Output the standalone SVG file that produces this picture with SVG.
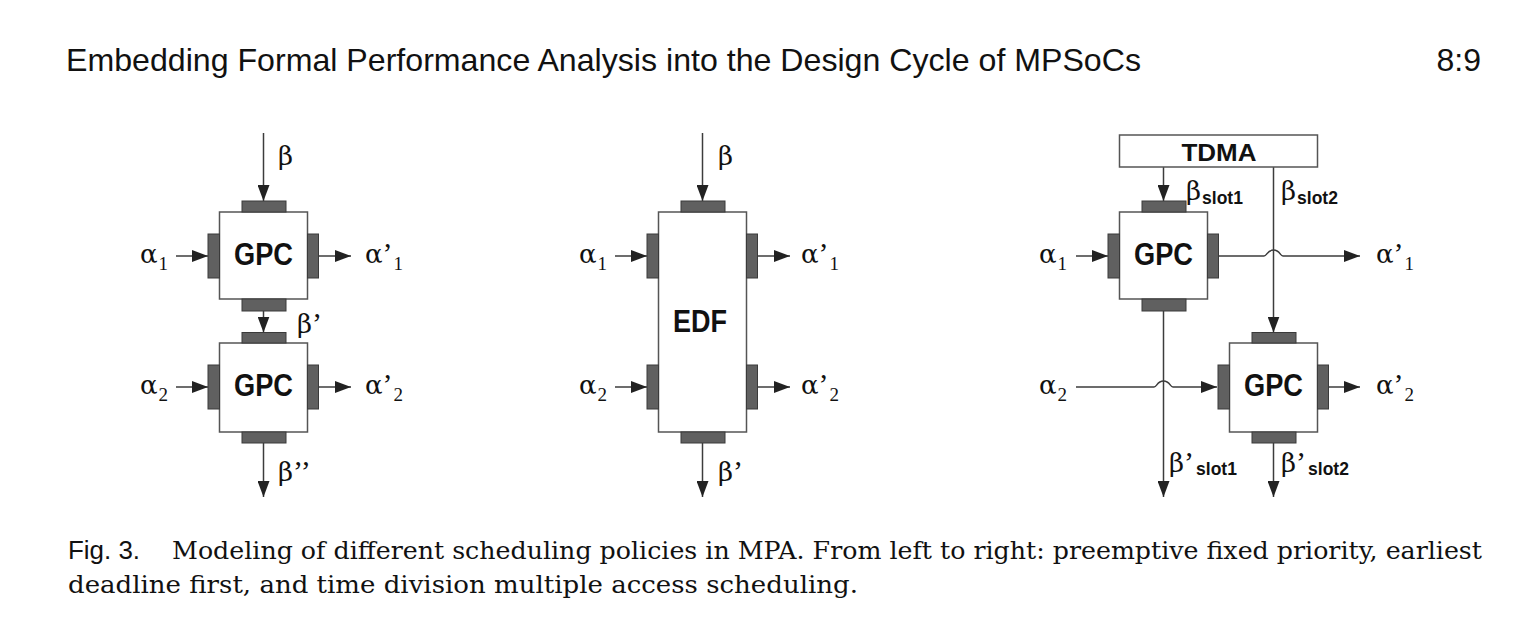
<svg xmlns="http://www.w3.org/2000/svg" width="1516" height="634" viewBox="0 0 1516 634">
<style>
.box{fill:#fff;stroke:#555;stroke-width:1.5}
.port{fill:#606060;stroke:#3a3a3a;stroke-width:1}
.ln{fill:none;stroke:#3c3c3c;stroke-width:1.5}
.arr{marker-end:url(#ah)}
.nm{font-family:"Liberation Sans",Arial,sans-serif;font-weight:bold;fill:#111;text-anchor:middle}
.gr{font-family:"DejaVu Serif","Liberation Serif",serif;font-size:26px;fill:#111}
.pr{font-family:"Liberation Serif","Times New Roman",serif;font-size:30px}
.sub{font-family:"Liberation Serif","Times New Roman",serif;font-size:19px}
.ss{font-family:"Liberation Sans",Arial,sans-serif;font-weight:bold;font-size:17.5px}
.hd{font-family:"Liberation Sans",Arial,sans-serif;font-size:32px;fill:#111}
.cap{font-family:"DejaVu Serif","Liberation Serif",serif;font-size:24.5px;fill:#111}
.capf{font-family:"Liberation Sans",Arial,sans-serif;font-size:25px;fill:#111}
</style>
<defs>
<marker id="ah" markerUnits="userSpaceOnUse" markerWidth="16" markerHeight="12" refX="16" refY="6" orient="auto">
<path d="M0,0 L16,6 L0,12 Z" fill="#222"/>
</marker>
</defs>
<rect width="1516" height="634" fill="#fff"/>

<text class="hd" x="66" y="71" textLength="1075" lengthAdjust="spacingAndGlyphs">Embedding Formal Performance Analysis into the Design Cycle of MPSoCs</text>
<text class="hd" x="1481" y="71" text-anchor="end">8:9</text>

<g id="connectors">
<path class="ln arr" d="M263.5,133 V201"/>
<path class="ln arr" d="M176,256 H208"/>
<path class="ln arr" d="M318.5,256 H351"/>
<path class="ln arr" d="M263.5,311 V332.5"/>
<path class="ln arr" d="M176,387 H208"/>
<path class="ln arr" d="M318.5,387 H351"/>
<path class="ln arr" d="M263.5,443 V497"/>
<path class="ln arr" d="M702.5,133 V201"/>
<path class="ln arr" d="M615,256 H647"/>
<path class="ln arr" d="M615,387 H647"/>
<path class="ln arr" d="M757.5,256 H790"/>
<path class="ln arr" d="M757.5,387 H790"/>
<path class="ln arr" d="M702.5,443 V497"/>
<path class="ln arr" d="M1163.5,167 V201"/>
<path class="ln arr" d="M1273.5,167 V332.5"/>
<path class="ln arr" d="M1076,256 H1108"/>
<path class="ln arr" d="M1218.5,256 H1264 C1267,256 1267,250 1273.5,250 C1280,250 1280,256 1283,256 H1360"/>
<path class="ln arr" d="M1163.5,311 V497"/>
<path class="ln arr" d="M1076,387 H1154 C1157,387 1157,381 1163.5,381 C1170,381 1170,387 1173,387 H1217"/>
<path class="ln arr" d="M1328.5,387 H1360"/>
<path class="ln arr" d="M1273.5,443 V497"/>
</g>

<g id="gpc-left-1">
<rect class="box" x="219.5" y="212" width="88" height="87"/>
<rect class="port" x="242" y="201" width="44" height="11"/>
<rect class="port" x="242" y="299" width="44" height="12"/>
<rect class="port" x="208" y="234" width="11.5" height="44"/>
<rect class="port" x="307.5" y="234" width="11" height="44"/>
<text class="nm" x="263.5" y="265" font-size="31" textLength="59" lengthAdjust="spacingAndGlyphs">GPC</text>
</g>
<g id="gpc-left-2">
<rect class="box" x="219.5" y="343" width="88" height="89"/>
<rect class="port" x="242" y="332.5" width="44" height="10.5"/>
<rect class="port" x="242" y="432" width="44" height="11"/>
<rect class="port" x="208" y="365" width="11.5" height="44"/>
<rect class="port" x="307.5" y="365" width="11" height="44"/>
<text class="nm" x="263.5" y="396" font-size="31" textLength="59" lengthAdjust="spacingAndGlyphs">GPC</text>
</g>
<g id="edf">
<rect class="box" x="658.5" y="212" width="88" height="220"/>
<rect class="port" x="681" y="201" width="44" height="11"/>
<rect class="port" x="681" y="432" width="44" height="11"/>
<rect class="port" x="647" y="234" width="11.5" height="44"/>
<rect class="port" x="647" y="365" width="11.5" height="44"/>
<rect class="port" x="746.5" y="234" width="11" height="44"/>
<rect class="port" x="746.5" y="365" width="11" height="44"/>
<text class="nm" x="700" y="332" font-size="31" textLength="54" lengthAdjust="spacingAndGlyphs">EDF</text>
</g>
<g id="tdma">
<rect class="box" x="1119.5" y="135" width="198" height="32"/>
<text class="nm" x="1219" y="161" font-size="24" textLength="75" lengthAdjust="spacingAndGlyphs">TDMA</text>
</g>
<g id="gpc-right-1">
<rect class="box" x="1119.5" y="212" width="88" height="87"/>
<rect class="port" x="1142" y="201" width="44" height="11"/>
<rect class="port" x="1142" y="299" width="44" height="12"/>
<rect class="port" x="1108" y="234" width="11.5" height="44"/>
<rect class="port" x="1207.5" y="234" width="11" height="44"/>
<text class="nm" x="1163.5" y="265" font-size="31" textLength="59" lengthAdjust="spacingAndGlyphs">GPC</text>
</g>
<g id="gpc-right-2">
<rect class="box" x="1229.5" y="343" width="88" height="89"/>
<rect class="port" x="1252" y="332.5" width="44" height="10.5"/>
<rect class="port" x="1252" y="432" width="44" height="11"/>
<rect class="port" x="1218" y="365" width="11.5" height="44"/>
<rect class="port" x="1317.5" y="365" width="11" height="44"/>
<text class="nm" x="1273.5" y="396" font-size="31" textLength="59" lengthAdjust="spacingAndGlyphs">GPC</text>
</g>

<g id="labels">
<text class="gr" x="278" y="165">β</text>
<text class="gr" x="140" y="263">α<tspan class="sub" dx="1" dy="7">1</tspan></text>
<text class="gr" x="365" y="263">α<tspan class="pr">’</tspan><tspan class="sub" dx="1" dy="7">1</tspan></text>
<text class="gr" x="297" y="333">β<tspan class="pr">’</tspan></text>
<text class="gr" x="140" y="394">α<tspan class="sub" dx="1" dy="7">2</tspan></text>
<text class="gr" x="365" y="394">α<tspan class="pr">’</tspan><tspan class="sub" dx="1" dy="7">2</tspan></text>
<text class="gr" x="278" y="481">β<tspan class="pr">’’</tspan></text>
<text class="gr" x="718" y="165">β</text>
<text class="gr" x="579" y="263">α<tspan class="sub" dx="1" dy="7">1</tspan></text>
<text class="gr" x="801" y="263">α<tspan class="pr">’</tspan><tspan class="sub" dx="1" dy="7">1</tspan></text>
<text class="gr" x="579" y="394">α<tspan class="sub" dx="1" dy="7">2</tspan></text>
<text class="gr" x="801" y="394">α<tspan class="pr">’</tspan><tspan class="sub" dx="1" dy="7">2</tspan></text>
<text class="gr" x="718" y="481">β<tspan class="pr">’</tspan></text>
<text class="gr" x="1186" y="200">β<tspan class="ss" dx="1" dy="4">slot1</tspan></text>
<text class="gr" x="1281" y="200">β<tspan class="ss" dx="1" dy="4">slot2</tspan></text>
<text class="gr" x="1039" y="263">α<tspan class="sub" dx="1" dy="7">1</tspan></text>
<text class="gr" x="1376" y="263">α<tspan class="pr">’</tspan><tspan class="sub" dx="1" dy="7">1</tspan></text>
<text class="gr" x="1039" y="394">α<tspan class="sub" dx="1" dy="7">2</tspan></text>
<text class="gr" x="1376" y="394">α<tspan class="pr">’</tspan><tspan class="sub" dx="1" dy="7">2</tspan></text>
<text class="gr" x="1169" y="472">β<tspan class="pr">’</tspan><tspan class="ss" dx="2" dy="3">slot1</tspan></text>
<text class="gr" x="1281" y="472">β<tspan class="pr">’</tspan><tspan class="ss" dx="2" dy="3">slot2</tspan></text>
</g>

<text class="capf" x="68" y="559" textLength="72" lengthAdjust="spacingAndGlyphs">Fig. 3.</text>
<text class="cap" x="172" y="559" textLength="1310" lengthAdjust="spacingAndGlyphs">Modeling of different scheduling policies in MPA. From left to right: preemptive fixed priority, earliest</text>
<text class="cap" x="68" y="593" textLength="790" lengthAdjust="spacingAndGlyphs">deadline first, and time division multiple access scheduling.</text>
</svg>
